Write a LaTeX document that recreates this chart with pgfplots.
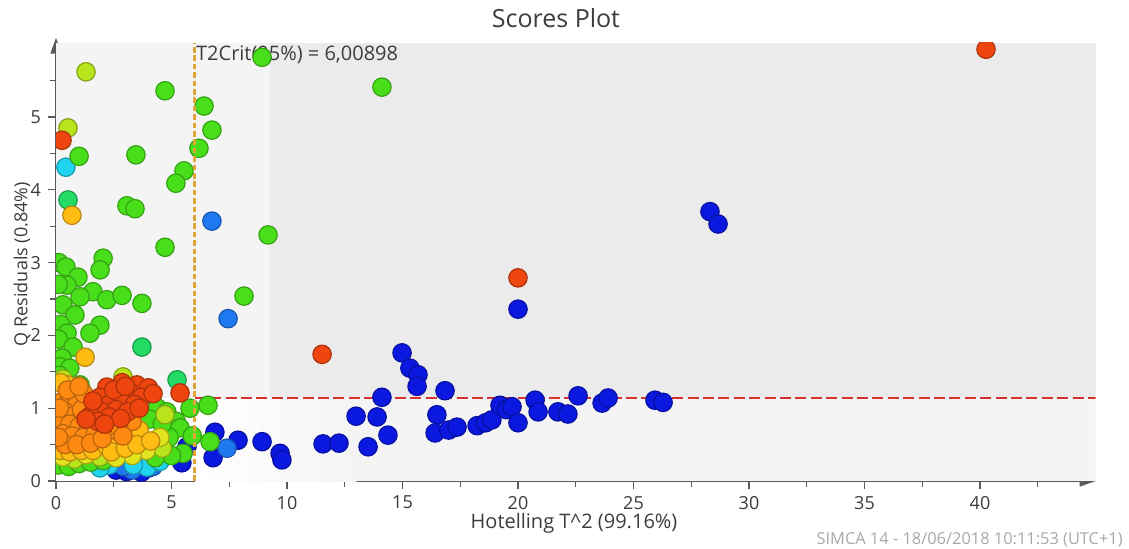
\documentclass[border=0pt]{standalone}
\usepackage{pgfplots}
\pgfplotsset{compat=1.18}
\usepackage{pgfplotstable}
\usepackage{fontspec}
\setmainfont{Open Sans}
\usetikzlibrary{arrows.meta}

\definecolor{axisgray}{HTML}{5A5A5A}
\definecolor{gridgray}{HTML}{D6D6D6}
\definecolor{bgupper}{HTML}{EBEBEB}
\definecolor{bgleft}{HTML}{F4F4F4}
\definecolor{critorange}{HTML}{E3A53A}
\definecolor{critred}{HTML}{D2342C}
\definecolor{textgray}{HTML}{3C3C3C}
\definecolor{stampgray}{HTML}{A8A8A8}

\definecolor{cBlue}{HTML}{0A18E0}
\definecolor{cDodger}{HTML}{1E78F0}
\definecolor{cCyan}{HTML}{20D4F0}
\definecolor{cSpring}{HTML}{22DA64}
\definecolor{cGreen}{HTML}{48DF1A}
\definecolor{cYellowGreen}{HTML}{B8E41C}
\definecolor{cYellow}{HTML}{E2E41E}
\definecolor{cGold}{HTML}{FFBD14}
\definecolor{cOrange}{HTML}{FF8A12}
\definecolor{cRed}{HTML}{EE460E}

% score groups: Hotelling T^2 (x) and Q residual (y)
\pgfplotstableread{
x y
28.31 3.70
28.66 3.53
20.00 2.36
14.98 1.76
15.32 1.55
15.67 1.46
15.63 1.30
16.84 1.24
14.11 1.15
12.99 0.89
13.90 0.88
14.37 0.63
13.51 0.47
11.56 0.51
12.25 0.52
16.49 0.91
16.41 0.66
17.00 0.70
17.36 0.74
18.23 0.76
18.60 0.80
18.87 0.84
19.22 1.04
19.50 0.98
19.74 1.02
20.00 0.80
20.74 1.11
20.87 0.95
21.73 0.95
22.16 0.92
22.60 1.17
23.64 1.07
23.90 1.14
25.93 1.11
26.28 1.08
6.88 0.67
7.88 0.56
6.80 0.32
8.92 0.54
9.70 0.38
9.78 0.29
5.67 0.47
5.45 0.25
4.00 0.18
2.60 0.15
3.70 0.12
3.05 0.13
}\blueset
\pgfplotstableread{
x y
6.75 3.57
7.45 2.23
7.40 0.45
3.30 0.15
2.90 0.20
4.20 0.20
}\dodgerset
\pgfplotstableread{
x y
0.43 4.31
3.94 0.19
3.35 0.22
2.30 0.22
4.50 0.27
1.90 0.18
}\cyanset
\pgfplotstableread{
x y
0.52 3.86
3.72 1.84
5.24 1.39
0.30 0.28
}\springset
\pgfplotstableread{
x y
8.92 5.82
14.11 5.41
4.72 5.36
6.41 5.15
6.75 4.82
6.19 4.57
1.00 4.46
3.46 4.48
5.54 4.26
5.19 4.09
3.07 3.78
3.42 3.74
9.18 3.38
4.72 3.21
8.14 2.54
6.58 1.04
6.67 0.54
0.12 3.00
0.43 2.94
2.04 3.06
1.91 2.90
0.95 2.80
0.48 2.69
0.10 2.70
1.60 2.60
1.04 2.53
2.20 2.49
2.86 2.55
3.72 2.44
0.30 2.42
0.82 2.28
1.90 2.14
0.20 2.15
1.47 2.03
0.48 2.03
0.10 1.95
0.74 1.84
0.26 1.69
0.17 1.57
0.60 1.55
1.04 1.32
0.15 1.45
4.40 1.00
4.80 0.95
5.80 1.00
5.20 0.82
5.37 0.73
4.90 0.60
5.90 0.62
5.50 0.38
5.00 0.35
4.30 0.32
4.05 0.85
4.60 0.78
0.10 0.22
0.55 0.20
1.00 0.24
1.50 0.26
2.05 0.28
}\greenset
\pgfplotstableread{
x y
1.30 5.62
0.52 4.85
4.72 0.91
0.80 0.30
1.90 0.33
4.60 0.45
0.30 1.40
2.90 1.43
}\ygreenset
\pgfplotstableread{
x y
4.50 0.60
3.90 0.42
0.30 0.33
1.30 0.36
3.30 0.35
2.60 0.32
}\yellowset
\pgfplotstableread{
x y
0.69 3.65
0.20 0.42
0.60 0.40
1.10 0.42
1.60 0.42
2.20 0.48
2.70 0.55
3.20 0.60
3.60 0.70
2.40 0.40
3.00 0.45
3.50 0.50
4.10 0.55
0.50 1.32
0.20 1.35
1.26 1.70
}\goldset
\pgfplotstableread{
x y
0.30 1.10
0.60 1.15
0.90 1.05
0.40 0.95
0.80 0.90
1.10 0.98
0.20 0.80
0.60 0.78
1.00 0.75
1.40 0.70
0.30 0.65
0.70 0.62
1.20 0.60
1.70 0.65
2.40 0.70
0.40 0.50
0.90 0.50
1.50 0.52
2.00 0.58
1.20 1.20
0.50 1.25
3.30 0.82
2.70 0.75
1.00 1.30
0.15 1.00
0.10 0.60
2.90 0.62
}\orangeset
\pgfplotstableread{
x y
40.26 5.93
0.26 4.68
20.00 2.79
11.52 1.74
2.20 1.29
2.86 1.35
3.50 1.32
4.00 1.28
3.20 1.22
2.60 1.18
1.90 1.15
3.70 1.15
2.30 1.05
2.90 1.08
3.40 1.05
1.70 1.00
2.00 0.95
2.60 0.98
3.10 0.95
1.50 0.90
2.30 0.88
2.80 0.86
1.80 0.82
2.10 0.78
1.30 0.85
3.60 1.00
4.20 1.20
5.37 1.21
1.60 1.10
2.50 1.25
3.00 1.30
}\redset

\pgfplotsset{
  dot/.style={only marks, mark=*, mark size=4.6pt,
    mark options={draw=#1!72!black, fill=#1, line width=0.6pt}},
}

\begin{document}
\begin{tikzpicture}
\begin{axis}[
  set layers,
  at={(0,0)}, anchor=south west,
  scale only axis, width=519.75pt, height=219.15pt,
  xmin=0, xmax=45, ymin=0, ymax=6.02,
  axis lines*=left,
  axis line style={draw=axisgray, line width=0.8pt},
  x axis line style={-{Triangle[length=8pt,width=5.5pt]}},
  y axis line style={-{Triangle[length=8pt,width=5.5pt]}, shorten >=-2.5pt},
  xtick={0,5,...,40}, ytick={0,1,...,5},
  minor xtick={2.5,7.5,...,42.5}, minor ytick={0.5,1.5,...,5.5},
  tick align=outside, major tick length=4pt, minor tick length=3pt,
  tick style={draw=axisgray, line width=0.6pt},
  grid=major, major grid style={draw=gridgray, line width=0.5pt},
  /pgf/number format/assume math mode=true,
  ticklabel style={font=\fontsize{9}{10}\selectfont, text=textgray},
  clip marker paths=true,
  xlabel={Hotelling T\^{}2 (99.16\%)},
  xlabel style={at={(axis description cs:0.4983,-0.0958)}, anchor=center,
    font=\fontsize{10}{12}\selectfont, text=textgray},
  ylabel={Q Residuals (0.84\%)},
  ylabel style={at={(axis description cs:-0.0327,0.495)}, anchor=center,
    font=\fontsize{9}{11}\selectfont, text=textgray},
]
% background regions
\fill[on layer=axis background, bgleft] (axis cs:0,0) rectangle (axis cs:45,6.02);
\fill[on layer=axis background, bgupper] (axis cs:9.26,1.144) rectangle (axis cs:45,6.02);
\fill[on layer=axis background, white] (axis cs:0,0) rectangle (axis cs:6.009,1.144);
\shade[on layer=axis background, left color=white, right color=bgleft]
  (axis cs:6.009,0) rectangle (axis cs:13,1.144);

% critical limits
\draw[critred, line width=1.2pt, dash pattern=on 5.5pt off 2.2pt]
  (axis cs:6.009,1.144) -- (axis cs:45,1.144);
\node[anchor=west, inner sep=0pt, font=\fontsize{10}{12}\selectfont, text=textgray]
  at (axis cs:6.05,5.85) {T2Crit(95\%) = 6,00898};

\addplot[dot=cBlue] table {\blueset};
\addplot[dot=cDodger] table {\dodgerset};
\addplot[dot=cCyan] table {\cyanset};
\addplot[dot=cSpring] table {\springset};
\addplot[dot=cGreen] table {\greenset};
\addplot[dot=cYellowGreen] table {\ygreenset};
\addplot[dot=cYellow] table {\yellowset};
\addplot[dot=cGold] table {\goldset};
\addplot[dot=cOrange] table {\orangeset};
\addplot[dot=cRed] table {\redset};

\draw[critorange, line width=1.4pt, dash pattern=on 2.8pt off 1.4pt]
  (axis cs:6.009,0) -- (axis cs:6.009,6.02);
\end{axis}
\node[font=\fontsize{12.5}{14}\selectfont, text=textgray]
  at (250pt,231.5pt) {Scores Plot};
\node[anchor=east, inner sep=0pt, font=\fontsize{8.2}{10}\selectfont, text=stampgray]
  at (533.5pt,-29.5pt) {SIMCA 14 - 18/06/2018 10:11:53 (UTC+1)};
\pgfresetboundingbox
\path[use as bounding box] (-28pt,-33.5pt) rectangle (536.5pt,240.5pt);
\end{tikzpicture}
\end{document}
